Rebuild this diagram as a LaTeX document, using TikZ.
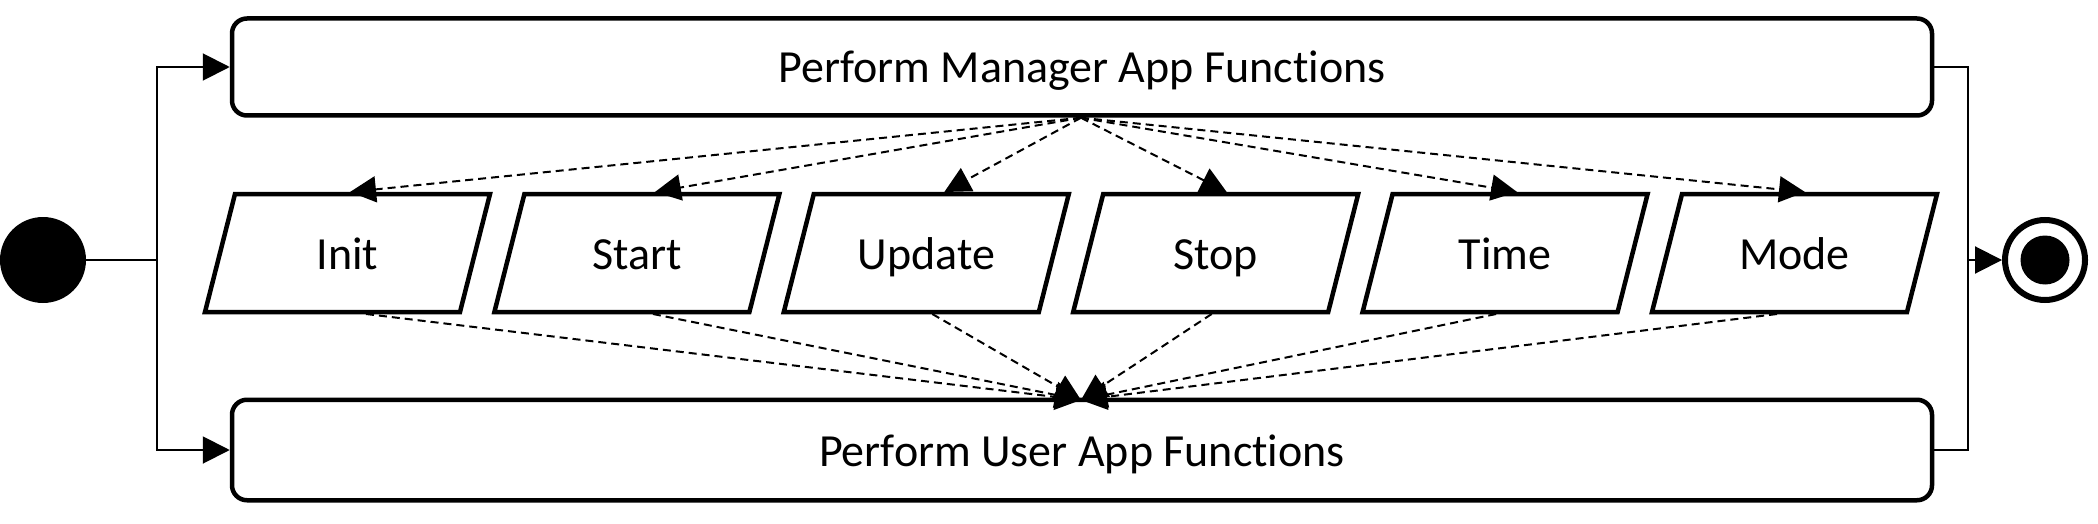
\documentclass[tikz,border=0pt]{standalone}
\usepackage{fontspec}
\setmainfont{Carlito}[Ligatures=CommonOff]
\usetikzlibrary{arrows.meta,calc}
\newcommand\mkpara[3]{%
  \draw[pshape] (#2-112.5,194) -- (#2+142.5,194)
     -- (#2+112.5,312) -- (#2-142.5,312) -- cycle;
  \node[ptext] (#1) at (#2,253) {#3};}
\begin{document}
\begin{tikzpicture}[x=1pt,y=-1pt,
  txt/.style={font=\fontsize{46}{54}\selectfont,text height=34pt,text depth=2pt},
  actbox/.style={draw,line width=4.5pt,rounded corners=15pt,fill=white,
     minimum width=1700pt,inner sep=0pt,txt},
  ptext/.style={draw=none,minimum width=255pt,minimum height=118pt,
     inner sep=0pt,outer sep=2pt,txt},
  pshape/.style={draw,line width=4.5pt,fill=white},
  flow/.style={line width=2pt},
  flowarr/.style={line width=2pt,-{Triangle[length=27pt,width=27pt]}},
  dep/.style={line width=2pt,dash pattern=on 8pt off 5pt,
     -{Triangle[length=26pt,width=26pt]}}
]
\useasboundingbox (0,0) rectangle (2098,524);
% initial and final nodes
\node[circle,fill=black,minimum size=86pt,inner sep=0pt,outer sep=0pt] (init) at (43,260) {};
\node[circle,draw,line width=6pt,minimum size=80pt,inner sep=0pt] (final) at (2045,260) {};
\node[circle,fill=black,minimum size=49pt,inner sep=0pt] (finaldot) at (2045,260) {};
% activity boxes
\node[actbox,minimum height=97pt] (mgr) at (1082,67) {Perform Manager App Functions};
\node[actbox,minimum height=100.5pt] (usr) at (1082,450) {Perform User App Functions};
% data parallelograms
\mkpara{pinit}{347.5}{Init}
\mkpara{pstart}{636.9}{Start}
\mkpara{pupdate}{926.3}{Update}
\mkpara{pstop}{1215.7}{Stop}
\mkpara{ptime}{1505.1}{Time}
\mkpara{pmode}{1794.5}{Mode}
% junction coordinates
\coordinate (jl) at (157,260);
\coordinate (jr) at (1968,260);
% control flow
\draw[flow] (init.east) -- (jl);
\draw[flowarr] (jl) |- (mgr.west);
\draw[flowarr] (jl) |- (usr.west);
\draw[flow] (mgr.east) -| (jr);
\draw[flow] (usr.east) -| (jr);
\draw[flowarr] (jr) -- (final.west);
% dependency ports
\coordinate (tinit) at ($(pinit.north)+(2.5,0)$);
\coordinate (tstart) at ($(pstart.north)+(18,0)$);
\coordinate (tupdate) at ($(pupdate.north)+(18,0)$);
\coordinate (tstop) at ($(pstop.north)+(11,0)$);
\coordinate (ttime) at ($(ptime.north)+(12,0)$);
\coordinate (tmode) at ($(pmode.north)+(10.5,0)$);
\coordinate (binit) at ($(pinit.south)+(18.5,0)$);
\coordinate (bstart) at ($(pstart.south)+(16,0)$);
\coordinate (bupdate) at ($(pupdate.south)+(6,0)$);
\coordinate (bstop) at ($(pstop.south)+(-4,0)$);
\coordinate (btime) at ($(ptime.south)+(-9,0)$);
\coordinate (bmode) at ($(pmode.south)+(-17.5,0)$);
\coordinate (msrc) at ($(mgr.south)+(-1,0)$);
\coordinate (utgt) at ($(usr.north)+(-1,2.5)$);
\foreach \p in {init,start,update,stop,time,mode}{
  \draw[dep] (msrc) -- (t\p);
  \draw[dep] (b\p) -- (utgt);
}
\end{tikzpicture}
\end{document}
